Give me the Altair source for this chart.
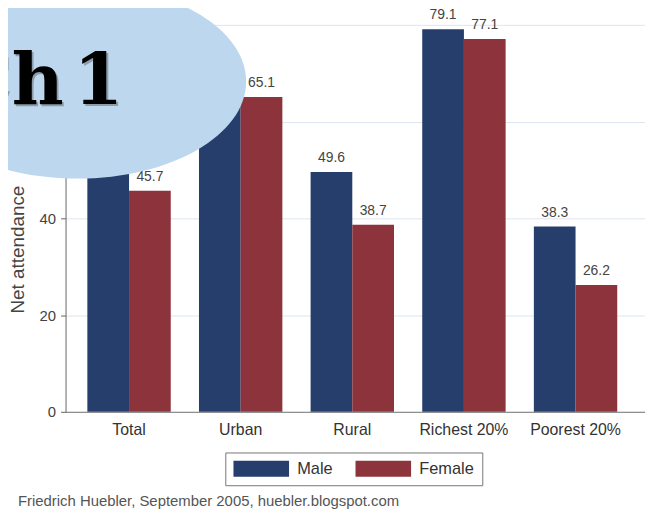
import altair as alt
import pandas as pd

categories = ["Total", "Urban", "Rural", "Richest 20%", "Poorest 20%"]
male = [55.0, 70.3, 49.6, 79.1, 38.3]
female = [45.7, 65.1, 38.7, 77.1, 26.2]
sexes = ["Male", "Female"]
colors = ["#263e6b", "#8c333b"]
credit = "Friedrich Huebler, September 2005, huebler.blogspot.com"

rows = []
for c, m, f in zip(categories, male, female):
    rows.append({"cat": c, "sex": "Male", "val": m})
    rows.append({"cat": c, "sex": "Female", "val": f})
df = pd.DataFrame(rows)

FONT = "Liberation Sans"

x_enc = alt.X("cat:N", sort=categories, title=None,
              scale=alt.Scale(paddingInner=0.253, paddingOuter=0.222, align=0.44),
              axis=alt.Axis(labelAngle=0, ticks=False, labelPadding=10, labelFontSize=16,
                            labelColor="#333", labelFont=FONT, domainColor="#777",
                            grid=False))
xoff = alt.XOffset("sex:N", sort=sexes, scale=alt.Scale(paddingInner=0, paddingOuter=0))
y_enc = alt.Y("val:Q", title="Net attendance",
              scale=alt.Scale(domain=[0, 83.1], nice=False, zero=True),
              axis=alt.Axis(values=[0, 20, 40, 60, 80], tickSize=5, tickColor="#666",
                            domainColor="#666", labelFontSize=15, labelColor="#444",
                            labelFont=FONT, labelPadding=5,
                            gridColor="#dde5ef", titleFont=FONT, titleFontSize=19,
                            titleFontWeight="normal", titleColor="#444",
                            titleX=-38, titleY=241, titleAngle=270))

# wide rectangle swatch that starts at the symbol's left edge and extends right
rect_path = "M -1 -1 L 6 -1 L 6 1 L -1 1 Z"

bars = alt.Chart(df).mark_bar().encode(
    x=x_enc, xOffset=xoff, y=y_enc,
    color=alt.Color("sex:N", sort=sexes,
                    scale=alt.Scale(domain=sexes, range=colors),
                    legend=alt.Legend(title=None, orient="none", legendX=161, legendY=446,
                                      direction="horizontal", symbolType=rect_path,
                                      symbolSize=256, symbolStrokeWidth=0,
                                      strokeColor="#777", fillColor="white",
                                      padding=8, labelFontSize=16.5, labelFont=FONT,
                                      labelColor="#333", labelOffset=48,
                                      columnPadding=22, cornerRadius=0)),
)

labels = alt.Chart(df).mark_text(dy=-14, fontSize=14, font=FONT, color="#444").encode(
    x=alt.X("cat:N", sort=categories), xOffset=alt.XOffset("sex:N", sort=sexes),
    y="val:Q", text=alt.Text("val:Q", format=".1f"),
)

one = pd.DataFrame({"a": [0]})
ell_path = ("M 1 0 C 1 0.318 0.552 0.576 0 0.576 C -0.552 0.576 -1 0.318 -1 0 "
            "C -1 -0.318 -0.552 -0.576 0 -0.576 C 0.552 -0.576 1 -0.318 1 0 Z")
ellipse = alt.Chart(one).mark_point(shape=ell_path, filled=True, fill="#bdd7ee",
                                    opacity=1, strokeWidth=0).encode(
    x=alt.value(12), y=alt.value(72), size=alt.value(340 * 340))

def ch_text(txt, align, x, y, color, opacity):
    return alt.Chart(one).mark_text(text=txt, font="DejaVu Serif", fontWeight="bold",
                                    fontSize=72, align=align, baseline="alphabetic",
                                    color=color, opacity=opacity).encode(
        x=alt.value(x), y=alt.value(y))

shadow1 = ch_text("Ch", "right", 0, 97, "#555", 0.45)
shadow2 = ch_text("1", "left", 10, 97, "#555", 0.45)
ch1 = ch_text("Ch", "right", -2, 95, "black", 1)
ch2 = ch_text("1", "left", 8, 95, "black", 1)

cred = alt.Chart(one).mark_text(text=credit, font=FONT, fontSize=15, align="left",
                                baseline="middle", color="#555").encode(
    x=alt.value(-48), y=alt.value(495))

chart = alt.layer(bars, labels, ellipse, shadow1, shadow2, ch1, ch2, cred).properties(
    width=584, height=405,
    autosize=alt.AutoSizeParams(type="none"),
    padding={"left": 58, "top": 0, "right": 0, "bottom": 98},
    background="white",
).configure_view(stroke=None)

chart.save("out.html", embed_options={"renderer": "svg", "actions": False})
